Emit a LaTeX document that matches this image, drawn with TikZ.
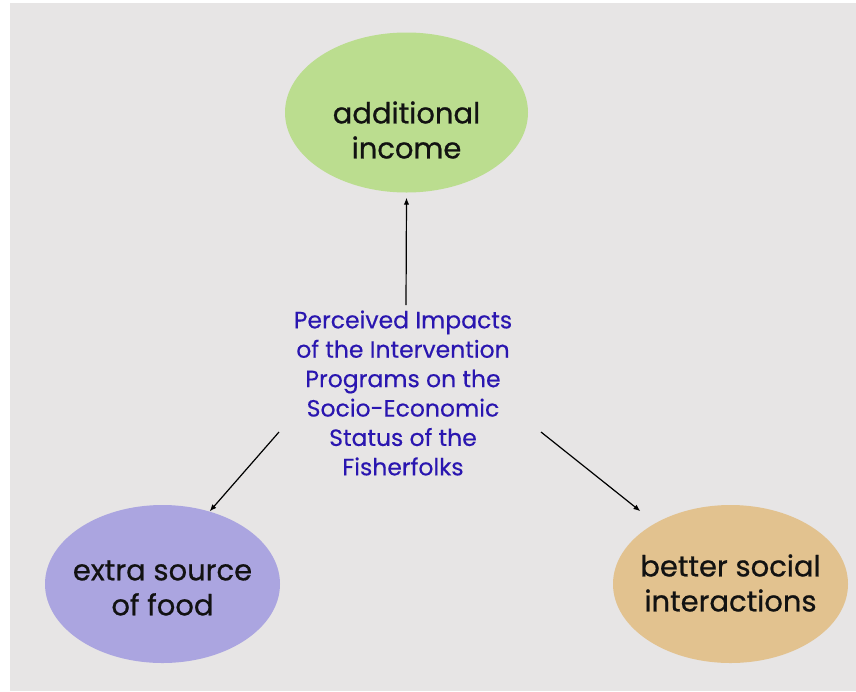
\documentclass[tikz,border=0pt]{standalone}
\usepackage{fontspec}
\setmainfont{Poppins}
\newfontfamily\blobfont{Poppins}[FakeBold=0.7]
\newfontfamily\hubfont{Poppins}[FakeBold=0.3]
\usetikzlibrary{shapes.geometric,arrows.meta}
\definecolor{bgray}{HTML}{E7E5E5}
\definecolor{incgreen}{HTML}{BBDD8F}
\definecolor{foodlilac}{HTML}{ABA5E0}
\definecolor{socialtan}{HTML}{E2C28F}
\definecolor{hubblue}{HTML}{2A16B0}
\begin{document}
\begin{tikzpicture}[x=1pt,y=-1pt,
		blob/.style={ellipse,inner sep=0pt},
		lbl/.style={align=center,text=black!93,font=\blobfont\fontsize{29}{35}\selectfont},
		arr/.style={-{Latex[length=7pt,width=5.5pt]},line width=1.2pt}]
	\useasboundingbox(0,0)rectangle(856,691);
	\fill[white](0,0)rectangle(856,691);
	\fill[bgray](10,3)rectangle(856,691);
	\node[blob,fill=incgreen,minimum width=243pt,minimum height=160pt](income)at(406.5,112.5){};
	\node[blob,fill=foodlilac,minimum width=235pt,minimum height=158pt](food)at(162.5,584){};
	\node[blob,fill=socialtan,minimum width=235pt,minimum height=158pt](social)at(730.5,584){};
	\node[lbl](incometext)at(406.5,130){additional\\income};
	\node[lbl](foodtext)at(162.5,588){extra source\\of food};
	\node[lbl](socialtext)at(730.5,583){better social\\interactions};
	\node[align=center,text=hubblue,font=\hubfont\fontsize{23.5}{29.4}\selectfont](hub)at(403,393){Perceived Impacts\\of the Intervention\\Programs on the\\Socio-Economic\\Status of the\\Fisherfolks};
	\coordinate(st)at(406,305);
	\coordinate(sl)at(279,432);
	\coordinate(sr)at(541,432);
	\draw[arr](st)--([yshift=-5pt]income.south);
	\draw[arr](sl)--(food.57);
	\draw[arr,shorten >=19pt](sr)--(social.141);
\end{tikzpicture}
\end{document}
